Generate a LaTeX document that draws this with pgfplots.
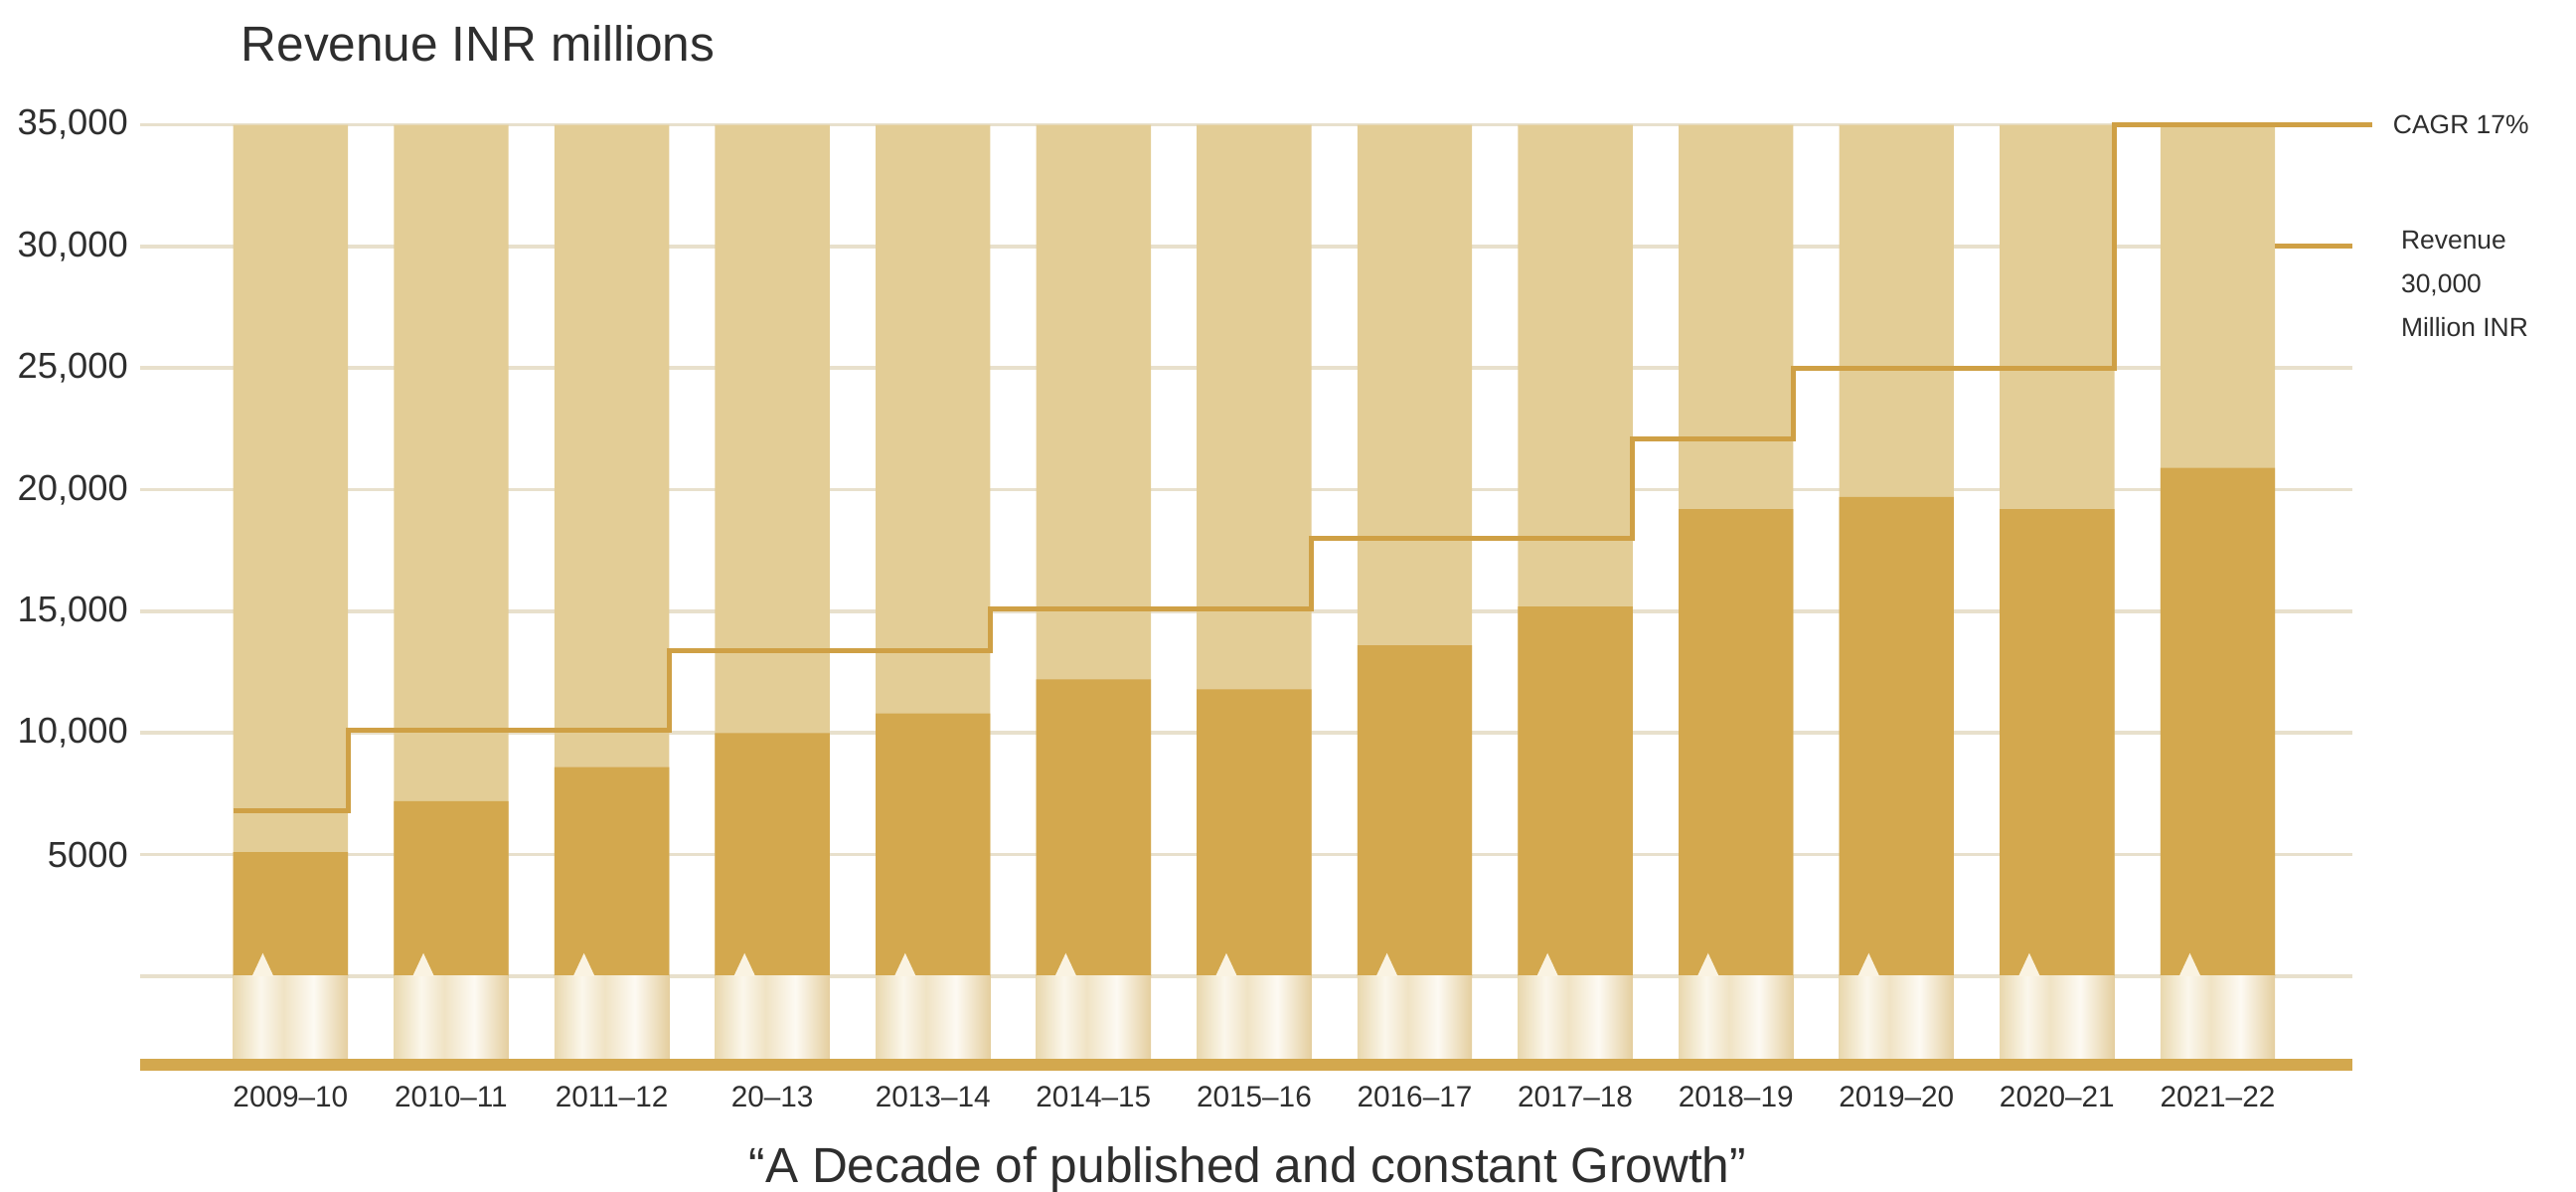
\documentclass[border=0pt]{standalone}
\usepackage{pgfplots}
\pgfplotsset{compat=1.18}
\usepackage{fontspec}
\setmainfont{Liberation Sans}
\definecolor{darkgold}{HTML}{D3A84E}
\definecolor{lightgold}{HTML}{E3CD96}
\definecolor{linegold}{HTML}{CFA045}
\definecolor{gridc}{HTML}{E8E0CC}
\definecolor{txt}{HTML}{2E2E2E}
\definecolor{tri}{HTML}{FAF3E2}
\definecolor{ga}{HTML}{E9D8AE}
\definecolor{gb}{HTML}{FBF7EC}
\definecolor{gc}{HTML}{F0E3C4}
\definecolor{gd}{HTML}{FDFAF3}
\definecolor{ge}{HTML}{E4CE9E}
\pgfdeclarehorizontalshading{cyl}{100bp}{color(0bp)=(ga); color(25bp)=(ga); color(37bp)=(gb); color(47bp)=(gc); color(60bp)=(gd); color(75bp)=(ge); color(100bp)=(ge)}
\pgfplotsset{foot/.style={ybar, bar width=0.714, bar shift=0pt, shading=cyl, draw=none}}
\begin{document}
\begin{tikzpicture}
\begin{axis}[
  scale only axis,
  width=673.5pt, height=289pt,
  xmin=-0.94, xmax=12.84,
  ymin=-4050, ymax=35000,
  clip=false,
  scaled y ticks=false,
  axis line style={draw=none},
  tick style={draw=none},
  ymajorgrids,
  major grid style={gridc, line width=1.1pt},
  ytick={0,5000,10000,15000,20000,25000,30000,35000},
  yticklabels={{},{5000},{10,000},{15,000},{20,000},{25,000},{30,000},{35,000}},
  yticklabel style={font=\fontsize{11}{13}\selectfont, text=txt},
  xtick={0,1,2,3,4,5,6,7,8,9,10,11,12},
  xticklabels={2009--10,2010--11,2011--12,20--13,2013--14,2014--15,2015--16,2016--17,2017--18,2018--19,2019--20,2020--21,2021--22},
  xticklabel style={font=\fontsize{9}{10}\selectfont, text=txt},
]
% background light bars
\addplot[ybar, bar width=0.714, bar shift=0pt, fill=lightgold, draw=none]
  coordinates {(0,35000) (1,35000) (2,35000) (3,35000) (4,35000) (5,35000) (6,35000) (7,35000) (8,35000) (9,35000) (10,35000) (11,35000) (12,35000)};
% revenue bars
\addplot[ybar, bar width=0.714, bar shift=0pt, fill=darkgold, draw=none]
  coordinates {(0,5100) (1,7200) (2,8600) (3,10000) (4,10800) (5,12200) (6,11800) (7,13600) (8,15200) (9,19200) (10,19700) (11,19200) (12,20900)};
% shaded foot bars
\addplot[foot] coordinates {(0,-3400)};
\addplot[foot] coordinates {(1,-3400)};
\addplot[foot] coordinates {(2,-3400)};
\addplot[foot] coordinates {(3,-3400)};
\addplot[foot] coordinates {(4,-3400)};
\addplot[foot] coordinates {(5,-3400)};
\addplot[foot] coordinates {(6,-3400)};
\addplot[foot] coordinates {(7,-3400)};
\addplot[foot] coordinates {(8,-3400)};
\addplot[foot] coordinates {(9,-3400)};
\addplot[foot] coordinates {(10,-3400)};
\addplot[foot] coordinates {(11,-3400)};
\addplot[foot] coordinates {(12,-3400)};
% base band
\addplot[fill=darkgold, draw=none] coordinates {(-0.94,-3400) (12.84,-3400) (12.84,-3900) (-0.94,-3900)} --cycle;
% small triangles
\addplot[fill=tri, draw=none] coordinates {(-0.24,0) (-0.173,950) (-0.106,0)} --cycle;
\addplot[fill=tri, draw=none] coordinates {(0.76,0) (0.827,950) (0.894,0)} --cycle;
\addplot[fill=tri, draw=none] coordinates {(1.76,0) (1.827,950) (1.894,0)} --cycle;
\addplot[fill=tri, draw=none] coordinates {(2.76,0) (2.827,950) (2.894,0)} --cycle;
\addplot[fill=tri, draw=none] coordinates {(3.76,0) (3.827,950) (3.894,0)} --cycle;
\addplot[fill=tri, draw=none] coordinates {(4.76,0) (4.827,950) (4.894,0)} --cycle;
\addplot[fill=tri, draw=none] coordinates {(5.76,0) (5.827,950) (5.894,0)} --cycle;
\addplot[fill=tri, draw=none] coordinates {(6.76,0) (6.827,950) (6.894,0)} --cycle;
\addplot[fill=tri, draw=none] coordinates {(7.76,0) (7.827,950) (7.894,0)} --cycle;
\addplot[fill=tri, draw=none] coordinates {(8.76,0) (8.827,950) (8.894,0)} --cycle;
\addplot[fill=tri, draw=none] coordinates {(9.76,0) (9.827,950) (9.894,0)} --cycle;
\addplot[fill=tri, draw=none] coordinates {(10.76,0) (10.827,950) (10.894,0)} --cycle;
\addplot[fill=tri, draw=none] coordinates {(11.76,0) (11.827,950) (11.894,0)} --cycle;
% CAGR step line
\addplot[linegold, line width=1.5pt, mark=none]
  coordinates {(-0.357,6800) (0.357,6800) (0.357,10100) (2.357,10100) (2.357,13400) (4.357,13400) (4.357,15100) (6.357,15100) (6.357,18000) (8.357,18000) (8.357,22100) (9.357,22100) (9.357,25000) (11.357,25000) (11.357,35000) (12.96,35000)};
% revenue legend swatch
\addplot[linegold, line width=1.5pt, mark=none] coordinates {(12.357,30000) (12.84,30000)};
% texts
\node[anchor=base west, font=\fontsize{15}{18}\selectfont, text=txt] at (axis cs:-0.38,37600) {Revenue INR millions};
\node[anchor=west, font=\fontsize{8}{10}\selectfont, text=txt] at (axis cs:13.02,35000) {CAGR 17\%};
\node[anchor=north west, align=left, font=\fontsize{8}{13.25}\selectfont, text=txt] at (axis cs:13.07,31100) {Revenue\\30,000\\Million INR};
\node[anchor=center, font=\fontsize{15}{18}\selectfont, text=txt] at (axis cs:5.96,-7950) {``A Decade of published and constant Growth''};
\end{axis}
\pgfresetboundingbox
\useasboundingbox ([xshift=-42.5pt,yshift=-35.5pt]current axis.south west) rectangle ([xshift=68pt,yshift=38pt]current axis.north east);
\end{tikzpicture}
\end{document}
